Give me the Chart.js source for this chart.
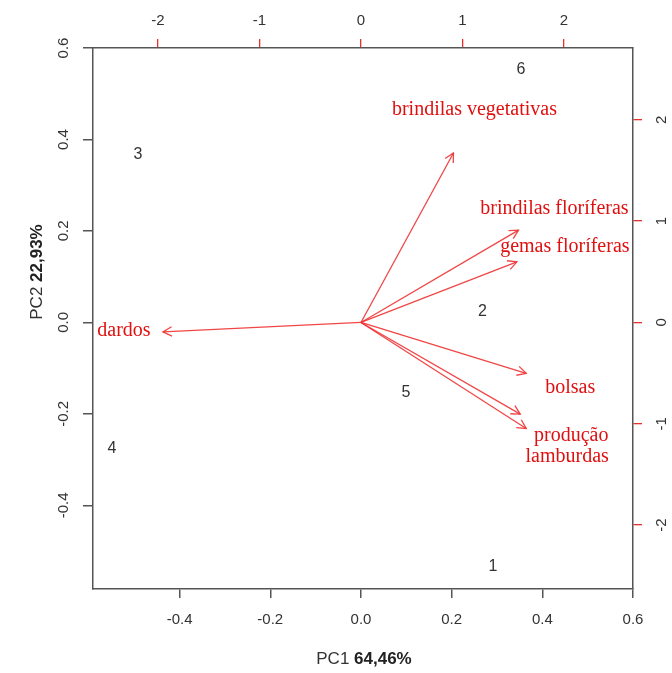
<!DOCTYPE html>
<html>
<head>
<meta charset="utf-8">
<script src="https://cdn.jsdelivr.net/npm/chart.js@4.4.1/dist/chart.umd.min.js"></script>
<style>
html, body { margin: 0; padding: 0; background: #fff; }
#wrap { width: 672px; height: 673px; position: relative; }
</style>
</head>
<body>
<div id="wrap"><canvas id="biplot"></canvas></div>
<script>
// observation scores (bottom / left axes)
var obsLabels = ['1', '2', '3', '4', '5', '6'];
var obsPC1 = [0.291, 0.268, -0.492, -0.549, 0.099, 0.353];
var obsPC2 = [-0.533, 0.023, 0.366, -0.275, -0.154, 0.552];

// variable loadings (top / right axes)
var varNames = ['brindilas vegetativas', 'brindilas floríferas', 'gemas floríferas', 'dardos', 'bolsas', 'produção', 'lamburdas'];
var varPC1 = [0.911, 1.552, 1.536, -1.951, 1.628, 1.569, 1.628];
var varPC2 = [1.673, 0.911, 0.598, -0.093, -0.503, -0.905, -1.046];

var xTicks = [-0.4, -0.2, 0, 0.2, 0.4, 0.6];
var yTicks = [-0.4, -0.2, 0, 0.2, 0.4, 0.6];
var x2Ticks = [-2, -1, 0, 1, 2];
var y2Ticks = [-2, -1, 0, 1, 2];

var pc1Title = ['PC1', '64,46%'];
var pc2Title = ['PC2', '22,93%'];

var arrowColor = 'rgba(238,50,50,0.9)';
var nameColor = '#e01010';
var axisGray = '#555';
var textGray = '#333';

// label offsets from arrow tip, px
var nameOffset = [[21, -43], [36, -21], [48, -15], [-39, -1], [44, 14], [51, 22], [41, 28]];

var datasets = [{
	label: 'obs',
	data: obsPC1.map(function(v, i){ return {x: v, y: obsPC2[i]}; }),
	pointRadius: 0,
	xAxisID: 'x',
	yAxisID: 'y'
}];
for (var i = 0; i < varNames.length; i++) {
	datasets.push({
		label: varNames[i],
		data: [{x: 0, y: 0}, {x: varPC1[i], y: varPC2[i]}],
		showLine: true,
		borderColor: arrowColor,
		borderWidth: 1.3,
		pointRadius: 0,
		xAxisID: 'x2',
		yAxisID: 'y2'
	});
}

var biplotExtras = {
	id: 'biplotExtras',
	afterDatasetsDraw: function(chart) {
		var ctx = chart.ctx;
		var sx = chart.scales.x, sy = chart.scales.y;
		var sx2 = chart.scales.x2, sy2 = chart.scales.y2;
		ctx.save();

		// arrow heads
		var x0 = sx2.getPixelForValue(0), y0 = sy2.getPixelForValue(0);
		ctx.strokeStyle = arrowColor;
		ctx.lineWidth = 1.3;
		for (var i = 0; i < varNames.length; i++) {
			var tx = sx2.getPixelForValue(varPC1[i]);
			var ty = sy2.getPixelForValue(varPC2[i]);
			var a = Math.atan2(ty - y0, tx - x0);
			var len = 10, spread = Math.PI / 6.5;
			ctx.beginPath();
			ctx.moveTo(tx - len * Math.cos(a - spread), ty - len * Math.sin(a - spread));
			ctx.lineTo(tx, ty);
			ctx.lineTo(tx - len * Math.cos(a + spread), ty - len * Math.sin(a + spread));
			ctx.stroke();
		}

		// variable names
		ctx.fillStyle = nameColor;
		ctx.font = '20px "Liberation Serif"';
		ctx.textAlign = 'center';
		ctx.textBaseline = 'middle';
		for (var j = 0; j < varNames.length; j++) {
			var px = sx2.getPixelForValue(varPC1[j]) + nameOffset[j][0];
			var py = sy2.getPixelForValue(varPC2[j]) + nameOffset[j][1];
			ctx.fillText(varNames[j], px, py);
		}

		// observation numbers
		ctx.fillStyle = textGray;
		ctx.font = '16px "Liberation Sans"';
		for (var k = 0; k < obsLabels.length; k++) {
			ctx.fillText(obsLabels[k], sx.getPixelForValue(obsPC1[k]), sy.getPixelForValue(obsPC2[k]));
		}

		// axis titles, percentages in bold
		var regular = '17px "Liberation Sans"', bold = 'bold 17px "Liberation Sans"';
		function title(parts, cx, cy, rot) {
			ctx.save();
			ctx.translate(cx, cy);
			ctx.rotate(rot);
			ctx.font = regular;
			var w1 = ctx.measureText(parts[0] + ' ').width;
			ctx.font = bold;
			var w2 = ctx.measureText(parts[1]).width;
			var start = -(w1 + w2) / 2;
			ctx.textAlign = 'left';
			ctx.textBaseline = 'middle';
			ctx.fillStyle = textGray;
			ctx.font = regular;
			ctx.fillText(parts[0], start, 0);
			ctx.font = bold;
			ctx.fillStyle = '#222';
			ctx.fillText(parts[1], start + w1, 0);
			ctx.restore();
		}
		title(pc1Title, (chart.chartArea.left + chart.chartArea.right) / 2 + 1, 659, 0);
		title(pc2Title, 37, 272, -Math.PI / 2);

		ctx.restore();
	}
};

function fixedTicks(list) {
	return function(scale) {
		scale.ticks = list.map(function(v){ return {value: v}; });
	};
}

var tickFont = {family: 'Liberation Sans', size: 15};

var config = {
	type: 'scatter',
	data: {datasets: datasets},
	options: {
		responsive: true,
		maintainAspectRatio: false,
		animation: false,
		events: [],
		layout: {padding: 0},
		plugins: {legend: {display: false}, tooltip: {enabled: false}},
		scales: {
			x: {
				type: 'linear', position: 'bottom', min: -0.591, max: 0.6,
				afterBuildTicks: fixedTicks(xTicks),
				afterFit: function(s){ s.height = 84; },
				ticks: {color: textGray, font: tickFont, padding: 13, autoSkip: false, maxRotation: 0,
					callback: function(v){ return Number(v).toFixed(1); }},
				grid: {drawOnChartArea: false, drawTicks: true, tickLength: 9, color: axisGray, lineWidth: 1.5},
				border: {display: true, color: axisGray, width: 1.5}
			},
			y: {
				type: 'linear', position: 'left', min: -0.583, max: 0.6,
				afterBuildTicks: fixedTicks(yTicks),
				afterFit: function(s){ s.width = 93; },
				ticks: {color: textGray, font: tickFont, padding: 6, autoSkip: false, minRotation: 90, maxRotation: 90,
					crossAlign: 'center', callback: function(v){ return Number(v).toFixed(1); }},
				grid: {drawOnChartArea: false, drawTicks: true, tickLength: 10, color: axisGray, lineWidth: 1.5},
				border: {display: true, color: axisGray, width: 1.5}
			},
			x2: {
				type: 'linear', position: 'top', min: -2.640, max: 2.680,
				afterBuildTicks: fixedTicks(x2Ticks),
				afterFit: function(s){ s.height = 48; },
				ticks: {color: textGray, font: tickFont, padding: 9, autoSkip: false, maxRotation: 0},
				grid: {drawOnChartArea: false, drawTicks: true, tickLength: 9, color: '#e83030', lineWidth: 1.3},
				border: {display: true, color: axisGray, width: 1.5}
			},
			y2: {
				type: 'linear', position: 'right', min: -2.631, max: 2.709,
				afterBuildTicks: fixedTicks(y2Ticks),
				afterFit: function(s){ s.width = 39; },
				ticks: {color: textGray, font: tickFont, padding: 13, autoSkip: false, minRotation: 90, maxRotation: 90,
					crossAlign: 'center'},
				grid: {drawOnChartArea: false, drawTicks: true, tickLength: 9, color: '#e83030', lineWidth: 1.3},
				border: {display: true, color: axisGray, width: 1.5}
			}
		}
	},
	plugins: [biplotExtras]
};

var biplot = new Chart(document.getElementById('biplot'), config);
</script>
</body>
</html>
